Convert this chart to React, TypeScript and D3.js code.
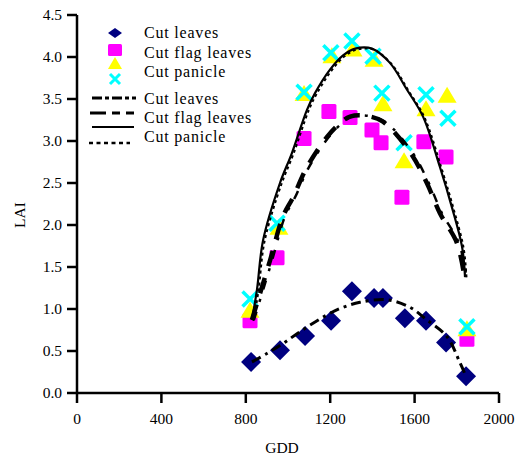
import React from "react";
import * as d3 from "d3";

const xTicks = [0, 400, 800, 1200, 1600, 2000];
const yTicks = [0, 0.5, 1.0, 1.5, 2.0, 2.5, 3.0, 3.5, 4.0, 4.5];

// Observed data
const leavesGdd = [825, 962, 1081, 1204, 1303, 1408, 1450, 1554, 1654, 1749, 1844];
const leavesLai = [0.37, 0.51, 0.68, 0.86, 1.21, 1.13, 1.13, 0.89, 0.86, 0.6, 0.2];

const flagGdd = [820, 948, 1076, 1194, 1294, 1398, 1441, 1540, 1644, 1749, 1848];
const flagLai = [0.86, 1.61, 3.03, 3.35, 3.28, 3.13, 2.98, 2.33, 2.99, 2.81, 0.64];

const panicleTriGdd = [820, 957, 1076, 1208, 1308, 1408, 1450, 1550, 1654, 1754, 1848];
const panicleTriLai = [0.99, 1.98, 3.57, 4.02, 4.1, 3.98, 3.45, 2.77, 3.39, 3.55, 0.77];

const panicleXGdd = [820, 948, 1076, 1203, 1303, 1403, 1445, 1550, 1654, 1758, 1848];
const panicleXLai = [1.12, 2.02, 3.58, 4.05, 4.19, 4.01, 3.57, 2.98, 3.55, 3.27, 0.79];

// Fitted curves
const fitLeavesGdd = [829, 900, 977, 1057, 1185, 1261, 1341, 1469, 1578, 1658, 1754, 1815, 1840];
const fitLeavesLai = [0.37, 0.47, 0.59, 0.73, 0.93, 1.02, 1.08, 1.11, 1.02, 0.87, 0.67, 0.36, 0.22];

const fitFlagGdd = [829, 915, 976, 1024, 1090, 1185, 1246, 1294, 1370, 1450, 1578, 1658, 1720, 1800, 1835];
const fitFlagLai = [0.87, 1.58, 2.1, 2.33, 2.69, 3.05, 3.21, 3.29, 3.3, 3.23, 2.87, 2.5, 2.14, 1.79, 1.4];

const fitPanicleGdd = [829, 853, 882, 962, 1019, 1090, 1128, 1199, 1261, 1318, 1398, 1483, 1564, 1640, 1720, 1777, 1825, 1839];
const fitPanicleLai = [0.87, 1.23, 1.82, 2.5, 2.86, 3.37, 3.57, 3.85, 4.02, 4.1, 4.1, 3.93, 3.61, 3.29, 2.69, 2.21, 1.74, 1.38];

const legendMarkerLabels = ["Cut leaves", "Cut flag leaves", "Cut panicle"];
const legendLineLabels = ["Cut leaves", "Cut flag leaves", "Cut panicle"];

const FONT = '"Liberation Serif", "DejaVu Serif", serif';

export default function App() {
  const W = 518, H = 456;
  const x = d3.scaleLinear().domain([0, 2000]).range([77, 499]);
  const y = d3.scaleLinear().domain([0, 4.5]).range([393, 15]);

  const line = d3
    .line<[number, number]>()
    .x((d) => x(d[0]))
    .y((d) => y(d[1]))
    .curve(d3.curveCatmullRom.alpha(0.5));

  const zip = (a: number[], b: number[]) => a.map((v, i) => [v, b[i]] as [number, number]);

  const diamond = (cx: number, cy: number, w: number, h: number) =>
    `M${cx},${cy - h / 2}L${cx + w / 2},${cy}L${cx},${cy + h / 2}L${cx - w / 2},${cy}Z`;
  const tri = (cx: number, cy: number, w: number, h: number) =>
    `M${cx},${cy - h / 2}L${cx + w / 2},${cy + h / 2}L${cx - w / 2},${cy + h / 2}Z`;
  const cross = (cx: number, cy: number, s: number) =>
    `M${cx - s / 2},${cy - s / 2}L${cx + s / 2},${cy + s / 2}M${cx + s / 2},${cy - s / 2}L${cx - s / 2},${cy + s / 2}`;

  const navy = "#000080";
  const magenta = "#FF00FF";
  const yellow = "#FFFF00";
  const cyan = "#00FFFF";
  const ts = { fontFamily: FONT };

  return (
    <svg
      width={W}
      height={H}
      style={{ position: "absolute", left: 0, top: 0, background: "#fff" }}
    >
      <rect x={0} y={0} width={W} height={H} fill="#fff" />

      {/* markers */}
      {zip(flagGdd, flagLai).map((d, i) => (
        <rect key={"s" + i} x={x(d[0]) - 7.5} y={y(d[1]) - 7.5} width={15} height={15} rx={1.5} fill={magenta} />
      ))}
      {zip(panicleTriGdd, panicleTriLai).map((d, i) => (
        <path key={"t" + i} d={tri(x(d[0]), y(d[1]), 19, 16)} fill={yellow} />
      ))}
      {zip(panicleXGdd, panicleXLai).map((d, i) => (
        <path key={"x" + i} d={cross(x(d[0]), y(d[1]), 15)} stroke={cyan} strokeWidth={3.5} fill="none" />
      ))}
      {zip(leavesGdd, leavesLai).map((d, i) => (
        <path key={"d" + i} d={diamond(x(d[0]), y(d[1]), 20, 20)} fill={navy} />
      ))}

      {/* fitted curves */}
      <path d={line(zip(fitPanicleGdd, fitPanicleLai)) || ""} fill="none" stroke="#000" strokeWidth={2.2} />
      <path
        d={line(zip(fitPanicleGdd, fitPanicleLai)) || ""}
        fill="none"
        stroke="#000"
        strokeWidth={2}
        strokeDasharray="3,3"
        transform="translate(1.5,1)"
      />
      <path
        d={line(zip(fitFlagGdd, fitFlagLai)) || ""}
        fill="none"
        stroke="#000"
        strokeWidth={4.5}
        strokeDasharray="16,12"
      />
      <path
        d={line(zip(fitFlagGdd, fitFlagLai)) || ""}
        fill="none"
        stroke="#000"
        strokeWidth={2.5}
        strokeDasharray="9,10,3,10"
        transform="translate(2,0)"
      />
      <path
        d={line(zip(fitLeavesGdd, fitLeavesLai)) || ""}
        fill="none"
        stroke="#000"
        strokeWidth={3}
        strokeDasharray="10,5,3,5"
      />

      {/* axes */}
      <line x1={77} x2={77} y1={y(4.5)} y2={y(0)} stroke="#000" strokeWidth={2.5} />
      <line x1={77} x2={x(2000)} y1={393} y2={393} stroke="#000" strokeWidth={2.5} />
      {yTicks.map((t) => (
        <g key={"yt" + t}>
          <line x1={67} x2={77} y1={y(t)} y2={y(t)} stroke="#000" strokeWidth={2.5} />
          <text x={62} y={y(t) + 5} textAnchor="end" fontSize={15.5} fill="#000" style={ts}>
            {t.toFixed(1)}
          </text>
        </g>
      ))}
      {xTicks.map((t) => (
        <g key={"xt" + t}>
          <line x1={x(t)} x2={x(t)} y1={393} y2={403} stroke="#000" strokeWidth={2.5} />
          <text x={x(t)} y={424} textAnchor="middle" fontSize={15.5} fill="#000" style={ts}>
            {t}
          </text>
        </g>
      ))}
      <text x={282} y={453} textAnchor="middle" fontSize={15.5} fill="#000" style={ts}>
        GDD
      </text>
      <text
        transform="translate(25,215) rotate(-90)"
        textAnchor="middle"
        fontSize={15.5}
        fill="#000"
        style={ts}
      >
        LAI
      </text>

      {/* legend markers */}
      <path d={diamond(115, 33, 14, 10)} fill={navy} />
      <rect x={108} y={44} width={14} height={12} rx={1.5} fill={magenta} />
      <path d={tri(115, 63, 14, 12)} fill={yellow} />
      <path d={cross(115, 79, 10)} stroke={cyan} strokeWidth={3} fill="none" />
      {legendMarkerLabels.map((l, i) => (
        <text key={"lm" + i} x={144} y={38 + i * 19.5} fontSize={16} letterSpacing={0.8} fill="#000" style={ts}>
          {l}
        </text>
      ))}

      {/* legend lines */}
      <line x1={92} x2={136} y1={98} y2={98} stroke="#000" strokeWidth={3} strokeDasharray="10,3,4,3" />
      <line x1={90} x2={134} y1={113} y2={113} stroke="#000" strokeWidth={3} strokeDasharray="16,6,8,6" />
      <line x1={92} x2={134} y1={127} y2={127} stroke="#000" strokeWidth={2.2} />
      <line x1={89} x2={130} y1={143} y2={143} stroke="#000" strokeWidth={2.5} strokeDasharray="4,3.5" />
      {legendLineLabels.map((l, i) => (
        <text key={"ll" + i} x={144} y={104 + i * 19} fontSize={16} letterSpacing={0.8} fill="#000" style={ts}>
          {l}
        </text>
      ))}
    </svg>
  );
}
